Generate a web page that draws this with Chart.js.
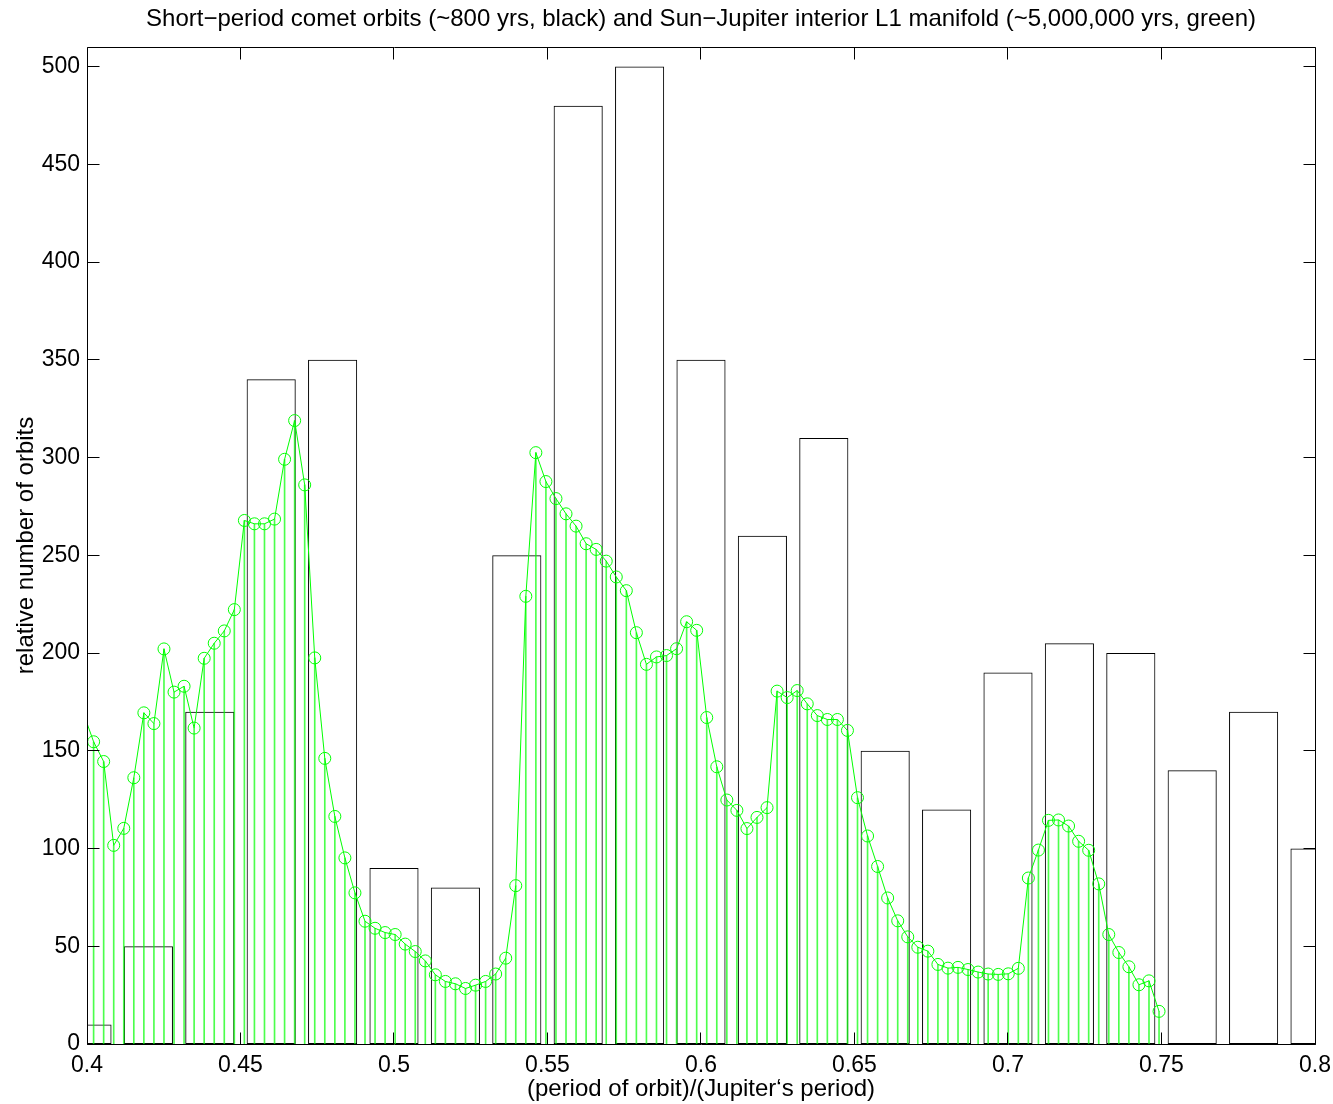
<!DOCTYPE html>
<html>
<head>
<meta charset="utf-8">
<title>Comet orbits vs L1 manifold</title>
<script src="https://cdn.jsdelivr.net/npm/chart.js@4/dist/chart.umd.min.js"></script>
<style>
  html, body { margin: 0; padding: 0; background: #fff; }
  canvas { display: block; }
</style>
</head>
<body>
<canvas id="orbitChart" width="1333" height="1104"></canvas>
<script>
// comet histogram: bin centres and counts (black outlined bars)
const cometBins = [0.40, 0.42, 0.44, 0.46, 0.48, 0.50, 0.52, 0.54, 0.56, 0.58, 0.60,
  0.62, 0.64, 0.66, 0.68, 0.70, 0.72, 0.74, 0.76, 0.78, 0.80]
const cometCounts = [10, 50, 170, 340, 350, 90, 80, 250, 480, 500, 350,
  260, 310, 150, 120, 190, 205, 200, 140, 170, 100]

// L1 manifold histogram (green stems), regular bins starting just left of 0.4
const manifoldStart = 0.39888
const manifoldStep = 0.003274
const manifoldCounts = [
  169, 154.6, 144.5, 101.6, 110.3, 136.2, 169.4, 163.9, 202.1, 180, 183,
  161.6, 197.3, 205, 211.3, 222.2, 267.8, 266.1, 266.1, 268.5, 299.1,
  318.9, 286, 197.5, 146.1, 116.4, 95.2, 77.3, 62.8, 59.2, 57.0,
  56.0, 51.1, 47.3, 42.5, 35.4, 32.0, 30.8, 28.4, 30.1, 32.0,
  35.8, 43.9, 81.0, 229.0, 302.5, 287.7, 279.0, 271.2, 264.9, 255.9,
  253.0, 247.0, 238.9, 231.9, 210.4, 194.2, 198.0, 198.7, 202.2, 216.0,
  211.6, 167.0, 141.8, 124.8, 119.5, 110.2, 115.9, 120.9, 180.5, 177.2,
  180.8, 174.0, 168.0, 166.0, 166.0, 160.4, 126.0, 106.4, 90.8, 74.7,
  63.0, 54.8, 49.5, 47.5, 40.7, 38.8, 39.2, 38.1, 36.8, 35.8,
  35.6, 35.9, 38.7, 84.9, 99.2, 114.4, 114.6, 111.5, 103.7, 99.1,
  81.9, 56.0, 46.8, 39.5, 30.3, 32.3, 16.7
]

const xTicks = [0.4, 0.45, 0.5, 0.55, 0.6, 0.65, 0.7, 0.75, 0.8]
const yTicks = [0, 50, 100, 150, 200, 250, 300, 350, 400, 450, 500]

const X_MIN = 0.4
const X_MAX = 0.8
const FONT = 'Liberation Sans, Arial, Helvetica, sans-serif'
const GREEN = '#00ff00'
const STEM_GREEN = 'rgba(0, 255, 0, 0.7)'

const cometPoints = cometBins.map((x, i) => ({ x, y: cometCounts[i] }))
const manifoldPoints = manifoldCounts.map((y, i) => ({ x: manifoldStart + i * manifoldStep, y }))

// box around the plot with inward ticks on all four sides
const boxAxes = {
  id: 'boxAxes',
  afterDatasetsDraw(chart) {
    const { ctx, chartArea } = chart
    const { x, y } = chart.scales
    const left = Math.floor(chartArea.left) + 0.5
    const right = Math.floor(chartArea.right) + 0.5
    const top = Math.floor(chartArea.top) + 0.5
    const bottom = Math.floor(chartArea.bottom) + 0.5
    const len = 12

    ctx.save()
    ctx.strokeStyle = '#000'
    ctx.lineWidth = 1
    ctx.beginPath()
    ctx.rect(left, top, right - left, bottom - top)
    x.ticks.forEach((t) => {
      const px = Math.floor(x.getPixelForValue(t.value)) + 0.5
      ctx.moveTo(px, bottom)
      ctx.lineTo(px, bottom - len)
      ctx.moveTo(px, top)
      ctx.lineTo(px, top + len)
    })
    y.ticks.forEach((t) => {
      const py = Math.floor(y.getPixelForValue(t.value)) + 0.5
      ctx.moveTo(left, py)
      ctx.lineTo(left + len, py)
      ctx.moveTo(right, py)
      ctx.lineTo(right - len, py)
    })
    ctx.stroke()
    ctx.restore()
  },
}

Chart.defaults.color = '#000'
Chart.defaults.font.family = FONT

new Chart(document.getElementById('orbitChart'), {
  type: 'bar',
  data: {
    datasets: [
      {
        type: 'line',
        xAxisID: 'xs',
        data: manifoldPoints,
        borderColor: GREEN,
        borderWidth: 1,
        tension: 0,
        fill: false,
        clip: 0,
        pointStyle: 'circle',
        // markers whose centre lies outside the axes are not drawn
        pointRadius: (c) => (c.raw && c.raw.x < X_MIN ? 0 : 6),
        pointHoverRadius: 6,
        pointBorderWidth: 1,
        pointBorderColor: GREEN,
        pointBackgroundColor: 'rgba(0,0,0,0)',
        order: 0,
      },
      {
        type: 'bar',
        xAxisID: 'xs',
        data: manifoldPoints,
        backgroundColor: STEM_GREEN,
        borderWidth: 0,
        barThickness: 1,
        grouped: false,
        clip: 0,
        order: 1,
      },
      {
        type: 'bar',
        xAxisID: 'x',
        data: cometPoints,
        backgroundColor: 'rgba(0,0,0,0)',
        borderColor: '#000',
        borderWidth: 1,
        borderSkipped: false,
        barPercentage: 0.8,
        categoryPercentage: 1.0,
        grouped: false,
        clip: 0,
        order: 2,
      },
    ],
  },
  options: {
    responsive: false,
    animation: false,
    events: [],
    layout: { padding: { left: 0, right: 18, top: 0, bottom: 0 } },
    plugins: {
      legend: { display: false },
      tooltip: { enabled: false },
      title: {
        display: true,
        fullSize: false,
        text: 'Short\u2212period comet orbits (~800 yrs, black) and Sun\u2212Jupiter interior L1 manifold (~5,000,000 yrs, green)',
        color: '#000',
        font: { size: 24, weight: 'normal' },
        padding: { top: 5, bottom: 13.2 },
      },
    },
    scales: {
      x: {
        type: 'linear',
        position: 'bottom',
        offset: false,
        min: X_MIN,
        max: X_MAX,
        grid: { display: false, drawTicks: false, offset: false },
        border: { display: false },
        afterBuildTicks: (scale) => { scale.ticks = xTicks.map((value) => ({ value })) },
        afterFit: (scale) => {
          scale.height = 60
          // end labels may hang past the box; the layout padding covers them
          scale.paddingLeft = 0
          scale.paddingRight = 0
        },
        ticks: {
          padding: 8,
          maxRotation: 0,
          autoSkip: false,
          font: { size: 23 },
          callback: (v) => String(v),
        },
        title: {
          display: true,
          text: '(period of orbit)/(Jupiter\u2018s period)',
          font: { size: 24 },
          padding: { top: 0, bottom: 0 },
        },
      },
      xs: {
        type: 'linear',
        display: false,
        offset: false,
        min: X_MIN,
        max: X_MAX,
        grid: { offset: false },
      },
      y: {
        type: 'linear',
        min: 0,
        max: 510,
        grid: { display: false, drawTicks: false },
        border: { display: false },
        afterBuildTicks: (scale) => { scale.ticks = yTicks.map((value) => ({ value })) },
        afterFit: (scale) => { scale.width = 87 },
        ticks: {
          padding: 7,
          autoSkip: false,
          font: { size: 23 },
          callback: (v) => String(v),
        },
        title: {
          display: true,
          text: 'relative number of orbits',
          font: { size: 24 },
          padding: { top: 11.6, bottom: 0 },
        },
      },
    },
  },
  plugins: [boxAxes],
})
</script>
</body>
</html>
